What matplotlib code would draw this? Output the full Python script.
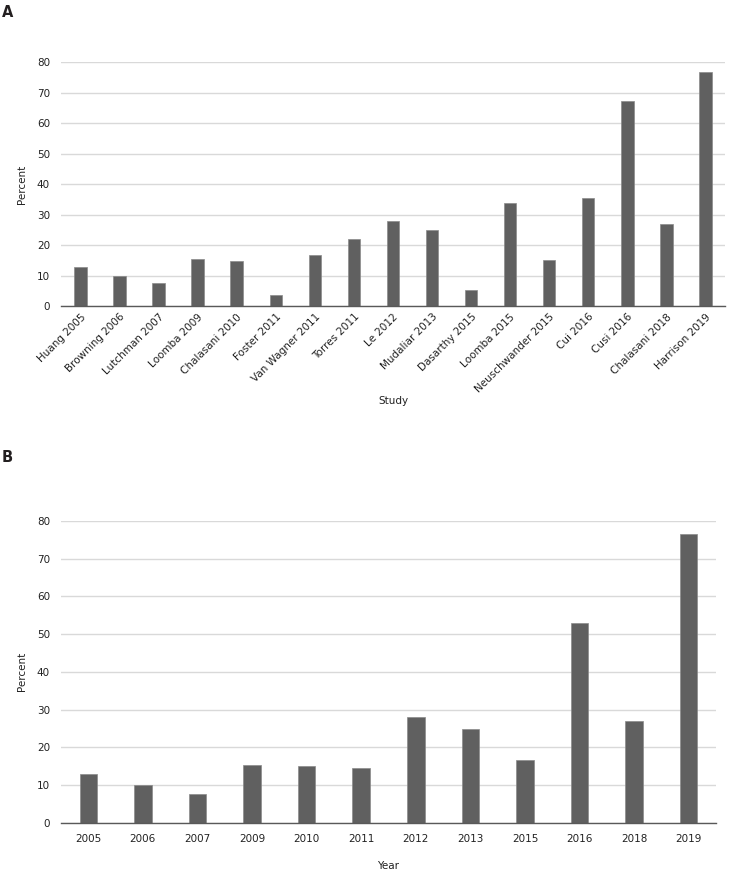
import matplotlib
matplotlib.use("Agg")
import matplotlib.pyplot as plt
import numpy as np

studies = ["Huang 2005", "Browning 2006", "Lutchman 2007", "Loomba 2009", "Chalasani 2010",
           "Foster 2011", "Van Wagner 2011", "Torres 2011", "Le 2012", "Mudaliar 2013",
           "Dasarthy 2015", "Loomba 2015", "Neuschwander 2015", "Cui 2016", "Cusi 2016",
           "Chalasani 2018", "Harrison 2019"]
study_pct = [13.0, 10.0, 7.6, 15.4, 15.0, 3.6, 16.7, 22.2, 28.0, 25.0, 5.3, 33.9, 15.2,
             35.6, 67.3, 27.0, 76.7]

years = ["2005", "2006", "2007", "2009", "2010", "2011", "2012", "2013", "2015", "2016",
         "2018", "2019"]
year_pct = [13.0, 10.0, 7.6, 15.3, 15.0, 14.6, 28.0, 25.0, 16.8, 52.9, 27.0, 76.6]

yticks = [0, 10, 20, 30, 40, 50, 60, 70, 80]

plt.rcParams['font.family'] = ['DejaVu Sans']
BAR = "#606060"
GRID = "#d9d9d9"
AX = "#595959"
TXT = "#222222"

fig = plt.figure(figsize=(7.42, 8.82), dpi=100)

def style(ax):
    ax.set_ylim(0, 80)
    ax.set_yticks(yticks)
    ax.yaxis.grid(True, color=GRID, linewidth=1.0)
    ax.set_axisbelow(True)
    for s in ["top", "right", "left"]:
        ax.spines[s].set_visible(False)
    ax.spines["bottom"].set_color(AX)
    ax.spines["bottom"].set_linewidth(1.0)
    ax.tick_params(axis="both", length=0, labelsize=7.5, colors=TXT)
    ax.tick_params(axis="y", pad=8)

axA = fig.add_axes([0.0822, 0.6527, 0.8948, 0.2767])
xa = np.arange(len(studies))
axA.bar(xa, study_pct, width=0.32, color=BAR, edgecolor="#8a8a8a", linewidth=0.5)
axA.set_xlim(-0.5, len(studies) - 0.5)
style(axA)
axA.set_xticks(xa)
axA.set_xticklabels(studies, rotation=45, ha="right", rotation_mode="anchor")
axA.tick_params(axis="x", pad=4)
axA.set_ylabel("Percent", fontsize=7.5, color=TXT, labelpad=7)
axA.set_xlabel("Study", fontsize=7.5, color=TXT, labelpad=1)

axB = fig.add_axes([0.0822, 0.0669, 0.8828, 0.3427])
xb = np.arange(len(years))
axB.bar(xb, year_pct, width=0.32, color=BAR, edgecolor="#8a8a8a", linewidth=0.5)
axB.set_xlim(-0.5, len(years) - 0.5)
style(axB)
axB.set_xticks(xb)
axB.set_xticklabels(years)
axB.tick_params(axis="x", pad=8)
axB.set_ylabel("Percent", fontsize=7.5, color=TXT, labelpad=7)
axB.set_xlabel("Year", fontsize=7.5, color=TXT, labelpad=12)

fig.text(0.002, 0.994, "A", fontsize=10.5, fontweight="bold", color="#231f20", va="top", ha="left")
fig.text(0.002, 0.490, "B", fontsize=10.5, fontweight="bold", color="#231f20", va="top", ha="left")

fig.savefig("out.png", dpi=100)
